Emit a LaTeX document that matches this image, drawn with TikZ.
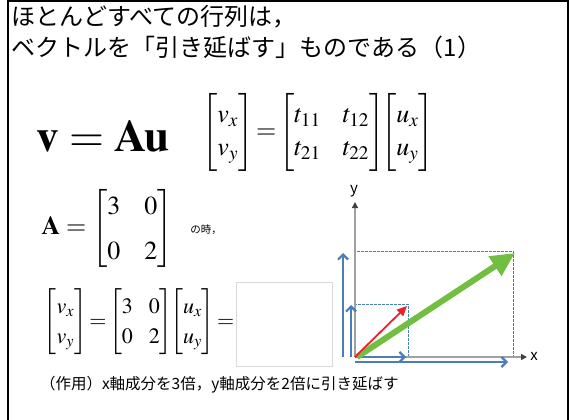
\documentclass[tikz,border=0pt]{standalone}
\usepackage{amsmath}
\usepackage{mathptmx}
\usepackage[no-math]{fontspec}
\setmainfont{Noto Sans CJK JP}
\usetikzlibrary{arrows.meta}
\definecolor{vblue}{RGB}{74,126,187}
\definecolor{vgreen}{RGB}{114,190,64}
\definecolor{vred}{RGB}{236,32,40}
\definecolor{axgray}{RGB}{160,160,160}
\begin{document}
\begin{tikzpicture}[x=1pt,y=-1pt,
  every node/.style={inner sep=0pt,outer sep=0pt},
  titletext/.style={anchor=west,font=\fontsize{24}{28}\selectfont},
  axisline/.style={draw=axgray,line width=1.6pt,-{Triangle[length=6pt,width=6pt,color=black!75]}},
  axlabel/.style={font=\fontsize{15}{18}\selectfont},
  dashrect/.style={draw=vblue,line width=0.8pt,dash pattern=on 2.5pt off 1.5pt},
  bluearrow/.style={draw=vblue,line width=2.2pt,-{Straight Barb[length=5pt,width=10pt]}},
  redarrow/.style={draw=vred,line width=1.8pt,-{Triangle[length=10pt,width=9pt]}},
  greenarrow/.style={draw=vgreen,line width=6pt,-{Triangle[length=24pt,width=22pt]}}
]
\useasboundingbox (0,0) rectangle (570,420);
% frame
\draw[line width=2.5pt] (8,422) -- (8,1.25) -- (568,1.25) -- (568,422);
% title
\node[titletext] (title1) at (12,17) {ほとんどすべての行列は，};
\node[titletext] (title2) at (12,47) {ベクトルを「引き延ばす」ものである（1）};
% v = Au
\node (eqv) at (103,136) {\fontsize{45}{50}\selectfont$\mathbf{v}=\mathbf{A}\mathbf{u}$};
% general matrix equation
\node (eqmat) at (318,132) {\fontsize{26}{33}\selectfont\setlength{\arraycolsep}{11pt}\delimitershortfall=-6pt$\begin{bmatrix} v_x\\ v_y\end{bmatrix}\!=\!\begin{bmatrix} t_{11} & t_{12}\\ t_{21} & t_{22}\end{bmatrix}\!\!\begin{bmatrix} u_x\\ u_y\end{bmatrix}$};
% A =
\node (eqA) at (107,228) {\fontsize{26}{45}\selectfont\setlength{\arraycolsep}{12pt}\delimiterfactor=850\delimitershortfall=100pt$\mathbf{A}=\begin{bmatrix}3&0\\0&2\end{bmatrix}$};
\node (notoki) at (206,230) {\fontsize{10.5}{12}\selectfont の時，};
% bottom equation
\node (eqb) at (139,322) {\fontsize{22}{30}\selectfont\setlength{\arraycolsep}{8pt}$\begin{bmatrix} v_x\\ v_y\end{bmatrix}\!=\!\begin{bmatrix}3&0\\0&2\end{bmatrix}\!\!\begin{bmatrix} u_x\\ u_y\end{bmatrix}\!=$};
\node[draw=black!15,line width=0.8pt,minimum width=96pt,minimum height=84pt] (blank) at (284,324) {};
% note
\node[anchor=west,font=\fontsize{15.5}{18}\selectfont] (note) at (40,385) {（作用）x軸成分を3倍，y軸成分を2倍に引き延ばす};
% graph
\coordinate (O) at (355,357);
\coordinate (xend) at (527,357);
\coordinate (yend) at (355,202);
\coordinate (p1) at (408,304);
\coordinate (p2) at (513,251);
\draw[dashrect] (O) rectangle (p1);
\draw[dashrect] (O) rectangle (p2);
\draw[axisline] (O) -- (xend);
\draw[axisline] (O) -- (yend);
\node[axlabel] (xl) at (534,356) {x};
\node[axlabel] (yl) at (354,191) {y};
% blue component arrows
\coordinate (bv1s) at (343,357);
\coordinate (bv1e) at (343,253);
\coordinate (bv2s) at (351,357);
\coordinate (bv2e) at (351,305);
\coordinate (bh1s) at (355,357);
\coordinate (bh1e) at (406,357);
\coordinate (bh2s) at (355,362);
\coordinate (bh2e) at (508,362);
\draw[bluearrow] (bv1s) -- (bv1e);
\draw[bluearrow] (bv2s) -- (bv2e);
\draw[bluearrow] (bh1s) -- (bh1e);
\draw[bluearrow] (bh2s) -- (bh2e);
% vectors
\coordinate (gs) at (357,357);
\coordinate (ge) at (515,253);
\coordinate (re) at (407,306);
\draw[greenarrow] (gs) -- (ge);
\draw[redarrow] (O) -- (re);
\end{tikzpicture}
\end{document}
